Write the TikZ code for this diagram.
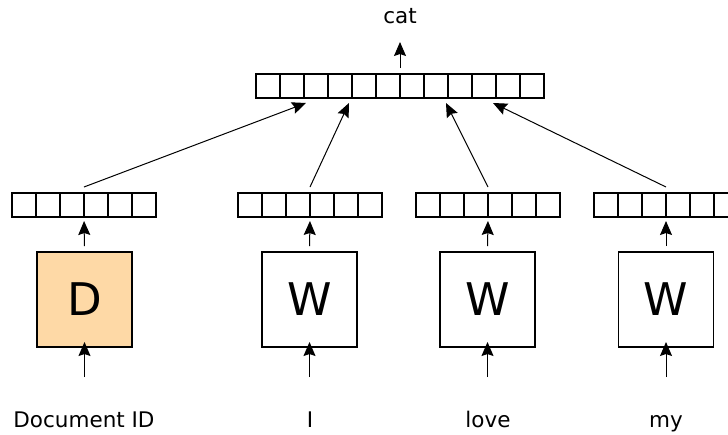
\documentclass[tikz,border=0pt]{standalone}
\usepackage{fontspec}
\setmainfont{DejaVu Sans}
\usetikzlibrary{arrows.meta,calc}
\definecolor{docfill}{HTML}{FED9A6}
\begin{document}
\begin{tikzpicture}[x=1pt,y=-1pt,
  vec/.style={draw, line width=1.3pt, minimum height=24pt, inner sep=0pt, outer sep=0pt},
  cellline/.style={line width=1.3pt},
  wbox/.style={draw, line width=1.3pt, minimum width=95pt, minimum height=95pt,
    inner sep=0pt, outer sep=0pt, font=\fontsize{45}{50}\selectfont},
  lbl/.style={anchor=base, inner sep=0pt, font=\fontsize{21.5}{25}\selectfont},
  arr/.style={-{Stealth[length=14pt, width=12pt, inset=2pt]}, line width=1pt},
]
\useasboundingbox (0,0) rectangle (728,434);
\clip (0,0) rectangle (728,434);

% top (output) vector with 12 cells
\node[vec, minimum width=288pt] (top) at (400,86) {};
\foreach \k in {1,...,11}
  \draw[cellline] ($(top.north west)+(24*\k,0)$) -- ($(top.south west)+(24*\k,0)$);

% lower embedding vectors, 6 cells each
\foreach \n/\x in {e1/84, e2/310, e3/488, e4/666} {
  \node[vec, minimum width=144pt] (\n) at (\x,205) {};
  \foreach \k in {1,...,5}
    \draw[cellline] ($(\n.north west)+(24*\k,0)$) -- ($(\n.south west)+(24*\k,0)$);
}

% weight / document matrices
\node[wbox, fill=docfill] (b1) at (84.5,299.5) {D};
\node[wbox] (b2) at (309.5,299.5) {W};
\node[wbox] (b3) at (487.5,299.5) {W};
\node[wbox] (b4) at (666,299.5) {W};

% inputs
\node[lbl] (l1) at (84,427) {Document ID};
\node[lbl] (l2) at (310,427) {I};
\node[lbl] (l3) at (488,427) {love};
\node[lbl] (l4) at (666,427) {my};

% output word
\node[lbl] (out) at (400,23) {cat};

% free ends of the input arrows
\foreach \i/\x in {1/84.5, 2/309.5, 3/487.5, 4/666}
  \coordinate (s\i) at (\x,377);

% start points just above the embedding vectors
\foreach \i in {1,...,4}
  \coordinate (u\i) at ([yshift=6pt]e\i.north);

% targets on the output vector
\coordinate (t1) at ($(top.south west)+(50,5)$);
\coordinate (t2) at ($(top.south west)+(93,5)$);
\coordinate (t3) at ($(top.south west)+(190,5)$);
\coordinate (t4) at ($(top.south west)+(237,5)$);
\coordinate (o) at (400,42);

\foreach \i in {1,...,4} {
  \draw[arr] (s\i) -- ([yshift=5pt]b\i.south);
  \draw[arr, shorten <=6pt, shorten >=4pt] (b\i.north) -- (e\i.south);
  \draw[arr] (u\i) -- (t\i);
}
\draw[arr, shorten <=6pt] (top.north) -- (o);
\end{tikzpicture}
\end{document}
